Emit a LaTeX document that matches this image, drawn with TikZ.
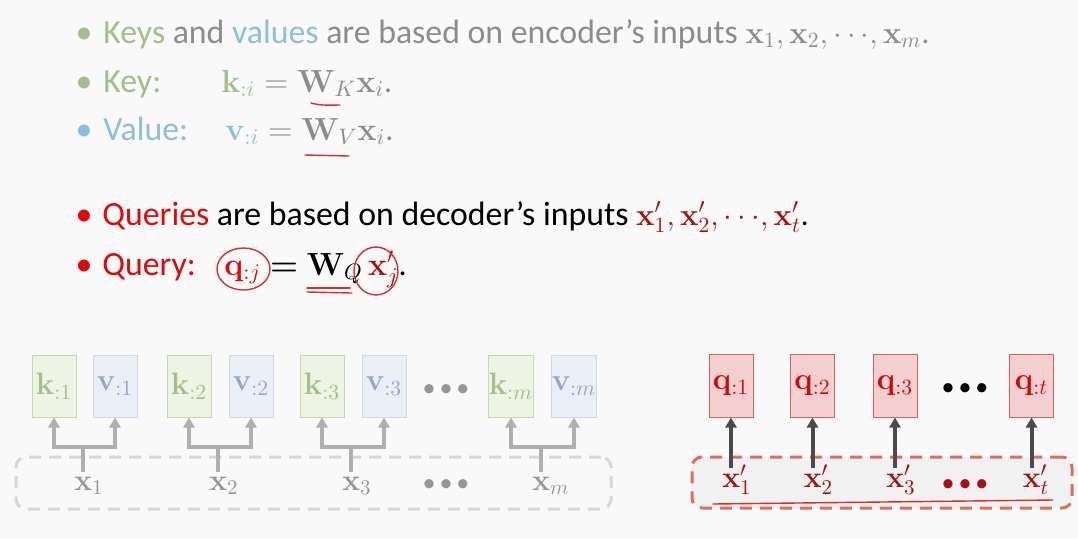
\RequirePackage{fix-cm}
\documentclass[tikz,border=0pt]{standalone}
\usepackage{amsmath}
\usepackage[no-math]{fontspec}
\setmainfont{Carlito}
\usetikzlibrary{arrows.meta}
\definecolor{bg}{RGB}{249,249,249}
\definecolor{kgreen}{RGB}{163,190,140}
\definecolor{vblue}{RGB}{140,190,225}
\definecolor{tgray}{RGB}{140,140,140}
\definecolor{qred}{RGB}{220,10,10}
\definecolor{xred}{RGB}{170,15,15}
\definecolor{kfill}{RGB}{237,244,228}
\definecolor{kdraw}{RGB}{195,218,175}
\definecolor{ktext}{RGB}{165,190,140}
\definecolor{vfill}{RGB}{234,239,247}
\definecolor{vdraw}{RGB}{205,215,237}
\definecolor{vtext}{RGB}{150,165,205}
\definecolor{qfill}{RGB}{243,207,207}
\definecolor{qdraw}{RGB}{215,95,95}
\definecolor{qtext}{RGB}{205,10,10}
\definecolor{larrow}{RGB}{175,175,175}
\definecolor{darrow}{RGB}{75,75,75}
\definecolor{ldash}{RGB}{215,215,215}
\definecolor{rdash}{RGB}{220,110,90}
\definecolor{rfill}{RGB}{241,241,241}
\definecolor{xgray}{RGB}{150,150,150}
\definecolor{pen}{RGB}{215,45,45}
\newcommand{\mathsz}{\fontsize{15.5}{18}\selectfont}
\tikzset{
  txt/.style={anchor=base west, inner sep=0pt, font=\fontsize{16.9}{20}\selectfont},
  eqn/.style={anchor=base west, inner sep=0pt, font=\fontsize{16}{19}\selectfont},
  bul/.style={anchor=base, inner sep=0pt, font=\fontsize{16.9}{20}\selectfont},
  kbox/.style={draw=kdraw, fill=kfill, line width=0.5pt, minimum width=22pt, minimum height=31pt, inner sep=0pt, text=ktext, font=\fontsize{15.5}{18}\selectfont},
  vbox/.style={draw=vdraw, fill=vfill, line width=0.5pt, minimum width=22pt, minimum height=31pt, inner sep=0pt, text=vtext, font=\fontsize{15.5}{18}\selectfont},
  qbox/.style={draw=qdraw, fill=qfill, line width=0.5pt, minimum width=22pt, minimum height=31.5pt, inner sep=0pt, text=qtext, font=\fontsize{15.5}{18}\selectfont},
  xlab/.style={anchor=base west, inner sep=0pt, font=\fontsize{15}{17}\selectfont},
  garr/.style={draw=larrow, line width=2pt, -{Triangle[width=5.5pt,length=5pt]}},
  darr/.style={draw=darrow, line width=2pt, -{Triangle[width=5.5pt,length=5pt]}},
  dotsnode/.style={inner sep=0pt, font=\fontsize{13}{15}\selectfont},
  penline/.style={draw=pen, line width=0.7pt, line cap=round},
}
\begin{document}
\begin{tikzpicture}[x=0.5pt,y=-0.5pt]
\fill[bg] (0,0) rectangle (1078,538);
\useasboundingbox (0,0) rectangle (1078,538);

% ---- top text ----
\node[bul, text=kgreen] (b1) at (84,43) {•};
\node[txt] (l1) at (103,43) {{\color{kgreen}Keys} {\color{tgray}and} {\color{vblue}values} {\color{tgray}are based on encoder’s inputs {\mathsz$\mathbf{x}_1,\mathbf{x}_2,{\cdots},\mathbf{x}_m$.}}};

\node[bul, text=kgreen] (b2) at (84,92) {•};
\node[txt, text=kgreen] (l2) at (103,92) {Key:};
\node[eqn, text=tgray] (e2) at (221,92) {$\textcolor{kgreen}{\mathbf{k}_{:i}} = \mathbf{W}_{K}\mathbf{x}_i$.};

\node[bul, text=vblue] (b3) at (84,140) {•};
\node[txt, text=vblue] (l3) at (103,140) {Value:};
\node[eqn, text=tgray] (e3) at (225,140) {$\textcolor{vblue}{\mathbf{v}_{:i}} = \mathbf{W}_{V}\mathbf{x}_i$.};

\node[bul, text=qred] (b4) at (84,225) {•};
\node[txt] (l4) at (102,225) {{\color{qred}Queries} are based on decoder’s inputs {\mathsz$\textcolor{xred}{\mathbf{x}'_1,\mathbf{x}'_2,{\cdots},\mathbf{x}'_t}$.}};

\node[bul, text=qred] (b5) at (84,275) {•};
\node[txt, text=qred] (l5) at (102,275) {Query:};
\node[eqn] (e5) at (224,275) {$\textcolor{qred}{\mathbf{q}_{:j}} \boldsymbol{=} \mathbf{W}_{Q}\,\textcolor{xred}{\mathbf{x}'_j}$.};

% ---- pen annotations ----
\draw[penline] (311,103) .. controls (322,106) and (332,105) .. (340,105);
\draw[penline] (305,155) -- (349,156);
\draw[penline] (307,288) -- (350,288);
\draw[penline] (307,292) -- (352,293);
\draw[penline] (243.5,269) ellipse [x radius=26.5, y radius=21];
\draw[penline] (376,271) ellipse [x radius=22, y radius=24];

% ---- left: dashed encoder box ----
\node[draw=ldash, line width=1.5pt, dash pattern=on 6pt off 4pt, rounded corners=5pt, minimum width=297.5pt, minimum height=26pt, inner sep=0pt] (encbox) at (313.5,483) {};

\node[kbox] (k1) at (54,386) {$\mathbf{k}_{:1}$};
\node[vbox] (v1) at (115,386) {$\mathbf{v}_{:1}$};
\node[kbox] (k2) at (189,386) {$\mathbf{k}_{:2}$};
\node[vbox] (v2) at (251,386) {$\mathbf{v}_{:2}$};
\node[kbox] (k3) at (322,386) {$\mathbf{k}_{:3}$};
\node[vbox] (v3) at (384,386) {$\mathbf{v}_{:3}$};
\node[kbox] (km) at (511,386) {$\mathbf{k}_{:m}$};
\node[vbox] (vm) at (574,386) {$\mathbf{v}_{:m}$};
\node[dotsnode, text=xgray] (dk) at (446,391) {\textbullet\kern2pt\textbullet\kern2pt\textbullet};

\node[xlab, text=xgray] (x1) at (74,490) {$\mathbf{x}_1$};
\node[xlab, text=xgray] (x2) at (209,490) {$\mathbf{x}_2$};
\node[xlab, text=xgray] (x3) at (342,490) {$\mathbf{x}_3$};
\node[xlab, text=xgray] (xm) at (532,490) {$\mathbf{x}_m$};
\node[dotsnode, text=xgray] (dx) at (446,486) {\textbullet\kern2pt\textbullet\kern2pt\textbullet};

\foreach \i/\xx in {1/83,2/218,3/351,m/541}{
  \coordinate (s\i) at (\xx,472);
  \coordinate (j\i) at (\xx,447);
  \draw[garr] (s\i) -- (j\i) -| (k\i.south);
  \draw[garr] (j\i) -| (v\i.south);
}

% ---- right: decoder ----
\node[draw=rdash, fill=rfill, line width=1.5pt, dash pattern=on 6pt off 4pt, rounded corners=5pt, minimum width=190pt, minimum height=25.5pt, inner sep=0pt] (decbox) at (882,482.5) {};
\draw[penline] (713,504) -- (1053,500);

\node[qbox] (q1) at (731,385.5) {$\mathbf{q}_{:1}$};
\node[qbox] (q2) at (812.5,385.5) {$\mathbf{q}_{:2}$};
\node[qbox] (q3) at (895,385.5) {$\mathbf{q}_{:3}$};
\node[qbox] (qt) at (1031.5,385.5) {$\mathbf{q}_{:t}$};
\node[dotsnode, text=black] (dq) at (965,390) {\textbullet\kern2pt\textbullet\kern2pt\textbullet};

\node[xlab, text=xred] (xp1) at (722,487) {$\mathbf{x}'_1$};
\node[xlab, text=xred] (xp2) at (803.5,487) {$\mathbf{x}'_2$};
\node[xlab, text=xred] (xp3) at (886,487) {$\mathbf{x}'_3$};
\node[xlab, text=xred] (xpt) at (1022.5,487) {$\mathbf{x}'_t$};
\node[dotsnode, text=xred] (dxp) at (965,486) {\textbullet\kern2pt\textbullet\kern2pt\textbullet};

\foreach \n/\xx in {q1/731,q2/812.5,q3/895,qt/1031.5}{
  \coordinate (r\n) at (\xx,468);
  \draw[darr] (r\n) -- (\n.south);
}
\end{tikzpicture}
\end{document}
